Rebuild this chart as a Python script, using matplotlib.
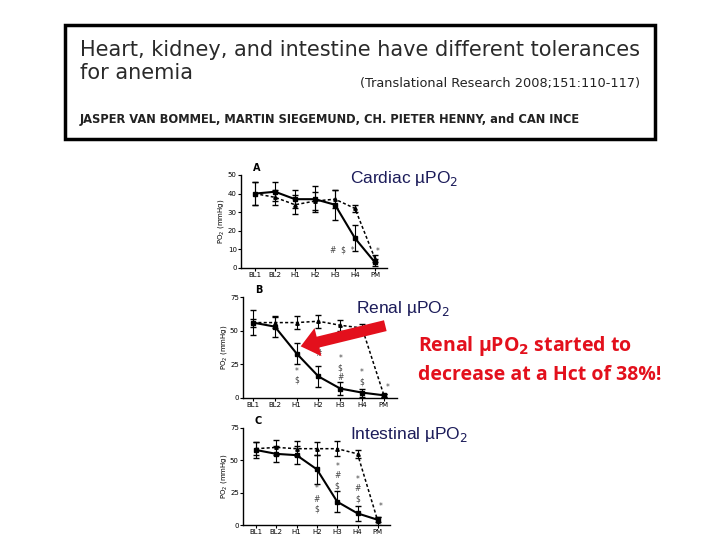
import numpy as np
import matplotlib
matplotlib.use("Agg")
import matplotlib.pyplot as plt
from matplotlib.patches import Rectangle, FancyArrowPatch

cats = ["BL1", "BL2", "H1", "H2", "H3", "H4", "PM"]

# panel A - cardiac
a_hd = [40, 41, 37, 37, 34, 16, 3]
a_hd_err = [6, 5, 5, 7, 8, 7, 2]
a_ctl = [40, 38, 34, 36, 37, 32, 5]
a_ctl_err = [6, 4, 5, 5, 5, 2, 2]

# panel B - renal
b_hd = [56, 53, 33, 16, 7, 4, 2]
b_hd_err = [9, 8, 8, 8, 5, 3, 1]
b_ctl = [56, 56, 56, 57, 54, 52, 2]
b_ctl_err = [3, 4, 5, 5, 4, 3, 1]

# panel C - intestinal
c_hd = [58, 55, 54, 43, 18, 9, 4]
c_hd_err = [6, 6, 7, 11, 8, 6, 2]
c_ctl = [59, 60, 59, 59, 59, 55, 3]
c_ctl_err = [5, 6, 6, 5, 6, 3, 3]

fig = plt.figure(figsize=(7.2, 5.4), dpi=100)

# title box
fig.patches.append(Rectangle((65/720, 1-139/540), 590/720, 114/540, transform=fig.transFigure,
                             fill=False, ec="black", lw=2.5))
fig.text(80/720, 1-50/540, "Heart, kidney, and intestine have different tolerances",
         fontsize=15, family="DejaVu Sans", color="#2a2a2a", va="center")
fig.text(80/720, 1-73/540, "for anemia", fontsize=15, family="DejaVu Sans",
         color="#2a2a2a", va="center")
fig.text(640/720, 1-83/540, "(Translational Research 2008;151:110-117)", fontsize=9.3,
         ha="right", va="center", color="#222222")
fig.text(80/720, 1-120/540, "JASPER VAN BOMMEL, MARTIN SIEGEMUND, CH. PIETER HENNY, and CAN INCE",
         fontsize=8.3, weight="bold", va="center", color="#222222")


def panel(rect, hd, hd_err, ctl, ctl_err, ymax, yticks, xlim, letter, notes):
    ax = fig.add_axes(rect)
    x = np.arange(len(cats))
    ax.errorbar(x, ctl, yerr=ctl_err, color="black", ls=(0, (2, 1.5)), lw=1.1,
                marker="^", ms=2.5, capsize=2, elinewidth=0.8)
    ax.errorbar(x, hd, yerr=hd_err, color="black", ls="-", lw=1.5,
                marker="s", ms=3, capsize=2, elinewidth=0.8)
    ax.set_xlim(*xlim)
    ax.set_ylim(0, ymax)
    ax.set_yticks(yticks)
    ax.set_xticks(x)
    ax.set_xticklabels(cats)
    ax.tick_params(labelsize=5, length=2, width=0.8, pad=1)
    for s in ["top", "right"]:
        ax.spines[s].set_visible(False)
    for s in ["left", "bottom"]:
        ax.spines[s].set_linewidth(1.0)
    ax.set_ylabel("PO$_2$ (mmHg)", fontsize=5, labelpad=1)
    ax.text(0.08, 1.02, letter, transform=ax.transAxes, fontsize=7, weight="bold",
            va="bottom")
    for xi, yi, s in notes:
        ax.text(xi, yi, s, fontsize=5.5, ha="center", va="center", color="#444444")
    return ax


panel([241/720, 1-268/540, 146/720, 93/540], a_hd, a_hd_err, a_ctl, a_ctl_err,
      50, [0, 10, 20, 30, 40, 50], (-0.7, 6.6), "A",
      [(4.35, 9.5, "#  $  *"), (6.15, 9, "*")])

panel([243/720, 1-398/540, 154/720, 101/540], b_hd, b_hd_err, b_ctl, b_ctl_err,
      75, [0, 25, 50, 75], (-0.46, 6.6), "B",
      [(2, 20, "*"), (2, 13, "$"), (3, 40, "$"), (3, 33, "#"),
       (4, 29, "*"), (4, 22, "$"), (4, 15, "#"), (5, 19, "*"), (5, 12, "$"),
       (6.15, 8, "*")])

panel([243/720, 1-525/540, 147/720, 97/540], c_hd, c_hd_err, c_ctl, c_ctl_err,
      75, [0, 25, 50, 75], (-0.64, 6.6), "C",
      [(3, 28, "*"), (3, 20, "#"), (3, 12, "$"), (4, 45, "*"), (4, 38, "#"),
       (4, 30, "$"), (5, 35, "*"), (5, 28, "#"), (5, 20, "$"), (6.15, 14, "*")])

navy = "#1c1c5a"
fig.text(350/720, 1-178/540, "Cardiac \u00b5PO$_2$", fontsize=12.5, color=navy, va="center",
         family="Liberation Sans")
fig.text(356/720, 1-309/540, "Renal \u00b5PO$_2$", fontsize=12.5, color=navy, va="center",
         family="Liberation Sans")
fig.text(350/720, 1-434/540, "Intestinal \u00b5PO$_2$", fontsize=12.5, color=navy, va="center",
         family="Liberation Sans")

red = "#e3101c"
fig.text(418/720, 1-346/540, "Renal \u00b5PO$_\\mathbf{2}$ started to", fontsize=14,
         color=red, weight="bold", va="center", family="Open Sans")
fig.text(418/720, 1-375/540, "decrease at a Hct of 38%!", fontsize=14,
         color=red, weight="bold", va="center", family="Open Sans")

arrow = FancyArrowPatch((388/720, 1-325/540), (298/720, 1-347/540), transform=fig.transFigure,
                        arrowstyle="simple,head_width=2.6,head_length=1.6,tail_width=1.0",
                        mutation_scale=8, color=red, lw=0)
fig.patches.append(arrow)

fig.savefig("out.png", dpi=100)
